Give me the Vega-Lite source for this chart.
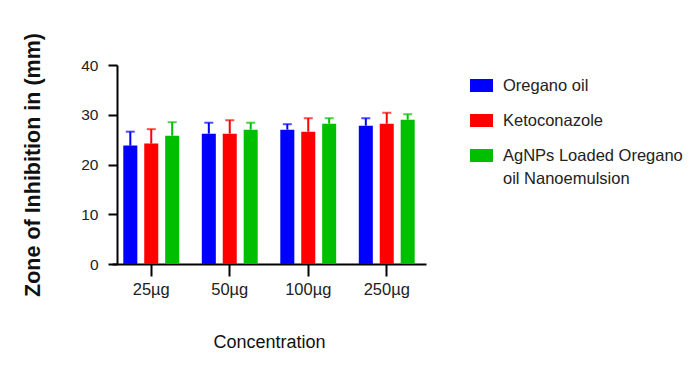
{
  "$schema": "https://vega.github.io/schema/vega-lite/v6.json",
  "autosize": "none",
  "width": 314,
  "height": 199,
  "padding": {"left": 112, "top": 65, "right": 271, "bottom": 108},
  "background": "white",
  "config": {
    "view": {"stroke": null},
    "font": "Liberation Sans",
    "style": {"guide-label": {"lineHeight": 23}}
  },
  "data": {
    "values": [
      {"conc": "25µg", "group": "Oregano oil", "mean": 23.8, "upper": 26.6},
      {"conc": "25µg", "group": "Ketoconazole", "mean": 24.2, "upper": 27.1},
      {"conc": "25µg", "group": "AgNPs Loaded Oregano oil Nanoemulsion", "mean": 25.8, "upper": 28.5},
      {"conc": "50µg", "group": "Oregano oil", "mean": 26.2, "upper": 28.4},
      {"conc": "50µg", "group": "Ketoconazole", "mean": 26.2, "upper": 28.9},
      {"conc": "50µg", "group": "AgNPs Loaded Oregano oil Nanoemulsion", "mean": 27.0, "upper": 28.4},
      {"conc": "100µg", "group": "Oregano oil", "mean": 27.0, "upper": 28.1},
      {"conc": "100µg", "group": "Ketoconazole", "mean": 26.6, "upper": 29.3},
      {"conc": "100µg", "group": "AgNPs Loaded Oregano oil Nanoemulsion", "mean": 28.2, "upper": 29.3},
      {"conc": "250µg", "group": "Oregano oil", "mean": 27.8, "upper": 29.3},
      {"conc": "250µg", "group": "Ketoconazole", "mean": 28.2, "upper": 30.4},
      {"conc": "250µg", "group": "AgNPs Loaded Oregano oil Nanoemulsion", "mean": 29.0, "upper": 30.1}
    ]
  },
  "encoding": {
    "x": {
      "field": "conc",
      "type": "nominal",
      "sort": ["25µg", "50µg", "100µg", "250µg"],
      "scale": {"paddingInner": 0, "paddingOuter": 0},
      "title": "Concentration",
      "axis": {
        "labelAngle": 0,
        "domainColor": "black",
        "domainWidth": 2,
        "tickColor": "black",
        "tickWidth": 2,
        "tickSize": 12,
        "labelPadding": 5,
        "labelFontSize": 16.5,
        "labelFont": "Liberation Sans",
        "labelColor": "#222",
        "titleFont": "Liberation Sans",
        "titleFontSize": 18,
        "titleFontWeight": "normal",
        "titleColor": "#111",
        "titlePadding": 36
      }
    },
    "xOffset": {
      "field": "group",
      "type": "nominal",
      "sort": ["Oregano oil", "Ketoconazole", "AgNPs Loaded Oregano oil Nanoemulsion"],
      "scale": {"paddingInner": 0.33, "paddingOuter": 0.54}
    },
    "color": {
      "field": "group",
      "type": "nominal",
      "scale": {
        "domain": ["Oregano oil", "Ketoconazole", "AgNPs Loaded Oregano oil Nanoemulsion"],
        "range": ["#0000FF", "#FF0000", "#00BF00"]
      },
      "legend": {
        "orient": "none",
        "legendX": 358,
        "legendY": 9,
        "title": null,
        "padding": 0,
        "symbolType": "M-1,-0.565H1V0.565H-1Z",
        "symbolSize": 529,
        "symbolStrokeWidth": 0,
        "symbolOpacity": 1,
        "labelFontSize": 16.5,
        "labelFont": "Liberation Sans",
        "labelColor": "#222",
        "labelOffset": 10,
        "labelLimit": 400,
        "rowPadding": 15,
        "labelExpr": "datum.label == 'AgNPs Loaded Oregano oil Nanoemulsion' ? ['AgNPs Loaded Oregano', 'oil Nanoemulsion'] : datum.label"
      }
    }
  },
  "layer": [
    {
      "mark": {"type": "bar"},
      "encoding": {
        "y": {
          "field": "mean",
          "type": "quantitative",
          "scale": {"domain": [0, 40]},
          "title": "Zone of Inhibition in (mm)",
          "axis": {
            "values": [0, 10, 20, 30, 40],
            "offset": -5,
            "grid": false,
            "domainColor": "black",
            "domainWidth": 2,
            "tickColor": "black",
            "tickWidth": 2,
            "tickSize": 9,
            "labelPadding": 10,
            "labelFontSize": 15.5,
            "labelFont": "Liberation Sans",
            "labelColor": "#222",
            "titleFont": "Liberation Sans",
            "titleFontSize": 21.5,
            "titleFontWeight": "bold",
            "titleColor": "#111",
            "titlePadding": 36
          }
        }
      }
    },
    {
      "mark": {"type": "rule", "strokeWidth": 2},
      "encoding": {
        "y": {"field": "mean", "type": "quantitative"},
        "y2": {"field": "upper"}
      }
    },
    {
      "mark": {"type": "tick", "thickness": 2, "size": 9},
      "encoding": {
        "y": {"field": "upper", "type": "quantitative"}
      }
    }
  ]
}
